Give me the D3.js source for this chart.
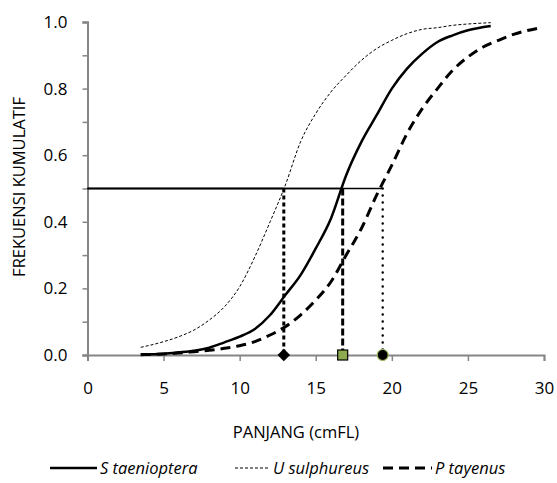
<!DOCTYPE html>
<html>
<head>
<meta charset="utf-8">
<script src="https://cdn.jsdelivr.net/npm/d3@7"></script>
<style>
  body { margin: 0; background: #fff; }
  text { font-family: "Open Sans", sans-serif; fill: #000; }
</style>
</head>
<body>
<svg width="557" height="483"></svg>
<script>
// Cumulative frequency curves
const sLen = [3.5, 5, 6, 7, 8, 9, 10, 11, 12, 13, 14, 15, 16, 17, 18, 19, 20, 21, 22, 23, 24, 25, 26.5];
const sVal = [0.002, 0.004, 0.008, 0.013, 0.022, 0.038, 0.055, 0.078, 0.12, 0.18, 0.24, 0.32, 0.41, 0.54, 0.64, 0.72, 0.80, 0.86, 0.905, 0.94, 0.96, 0.975, 0.988];

const uLen = [3.5, 5, 6, 7, 8, 9, 10, 11, 12, 13, 14, 15, 16, 17, 18, 19, 20, 21, 22, 23, 24, 25, 26.5];
const uVal = [0.023, 0.04, 0.055, 0.075, 0.105, 0.145, 0.205, 0.295, 0.4, 0.51, 0.64, 0.725, 0.79, 0.84, 0.885, 0.92, 0.945, 0.965, 0.978, 0.983, 0.99, 0.994, 0.998];

const pLen = [3.5, 5, 6, 7, 8, 9, 10, 11, 12, 13, 14, 15, 16, 17, 18, 19, 20, 21, 22, 23, 24, 25, 26, 27, 28, 29.6];
const pVal = [0.001, 0.003, 0.006, 0.01, 0.014, 0.02, 0.028, 0.04, 0.06, 0.085, 0.12, 0.165, 0.22, 0.3, 0.38, 0.48, 0.57, 0.665, 0.74, 0.8, 0.855, 0.895, 0.925, 0.945, 0.963, 0.981];

// median lengths (L50) for each species
const medNames = ["U sulphureus", "S taenioptera", "P tayenus"];
const medLen = [12.9, 16.77, 19.4];

const xTicks = [0, 5, 10, 15, 20, 25, 30];
const yTicks = [0, 0.2, 0.4, 0.6, 0.8, 1.0];
const yMinor = [0.1, 0.3, 0.5, 0.7, 0.9];

const svg = d3.select("svg");
const x = d3.scaleLinear().domain([0, 30]).range([87.5, 544]);
const y = d3.scaleLinear().domain([0, 1]).range([355, 22]);
const axisCol = "#868686";

// axes
const yAxis = svg.append("g").attr("transform", "translate(87.5,0)")
    .call(d3.axisLeft(y).tickValues(yTicks).tickFormat(d3.format(".1f")).tickSize(5).tickPadding(15));
yAxis.selectAll("text").style("font-size", "17px");
svg.append("g").attr("transform", "translate(87.5,0)")
    .call(d3.axisLeft(y).tickValues(yMinor).tickFormat("").tickSize(5));

const xAxis = svg.append("g").attr("transform", "translate(0,355)")
    .call(d3.axisBottom(x).tickValues(xTicks).tickSize(6).tickPadding(21));
xAxis.selectAll("text").style("font-size", "17px");

svg.selectAll(".domain").attr("stroke", axisCol).attr("stroke-width", 2);
svg.selectAll(".tick line").attr("stroke", axisCol).attr("stroke-width", 1.5);

svg.append("text")
    .attr("transform", "translate(25,187) rotate(-90)")
    .attr("text-anchor", "middle")
    .style("font-size", "16.5px")
    .text("FREKUENSI  KUMULATIF");

svg.append("text")
    .attr("x", 296).attr("y", 438)
    .attr("text-anchor", "middle")
    .style("font-size", "16.5px")
    .text("PANJANG (cmFL)");

// horizontal line at 0.5 up to each median
medLen.forEach(m => {
    svg.append("line")
        .attr("x1", x(0)).attr("x2", x(m))
        .attr("y1", y(0.5)).attr("y2", y(0.5))
        .attr("stroke", "#000").attr("stroke-width", 1.5);
});

// vertical drop lines
const dropStyle = [
    {dash: "4,3", w: 3, cap: "butt"},
    {dash: "7,3", w: 3, cap: "butt"},
    {dash: "0,7", w: 2.5, cap: "round"}
];
medLen.forEach((m, i) => {
    svg.append("line")
        .attr("x1", x(m)).attr("x2", x(m))
        .attr("y1", y(0.5)).attr("y2", y(0))
        .attr("stroke", "#000")
        .attr("stroke-width", dropStyle[i].w)
        .attr("stroke-dasharray", dropStyle[i].dash)
        .attr("stroke-linecap", dropStyle[i].cap);
});

// curves
const line = d3.line().x(d => x(d[0])).y(d => y(d[1])).curve(d3.curveMonotoneX);
const series = [
    {len: sLen, val: sVal, w: 2.5, dash: null},
    {len: uLen, val: uVal, w: 1, dash: "3,2"},
    {len: pLen, val: pVal, w: 3, dash: "10,6"}
];
series.forEach(s => {
    svg.append("path")
        .datum(d3.zip(s.len, s.val))
        .attr("d", line)
        .attr("fill", "none")
        .attr("stroke", "#000")
        .attr("stroke-width", s.w)
        .attr("stroke-dasharray", s.dash);
});

// markers on the axis
svg.append("path")
    .attr("d", d3.symbol(d3.symbolDiamond2, 100)())
    .attr("transform", `translate(${x(medLen[0])},${y(0)})`)
    .attr("fill", "#000");
svg.append("rect")
    .attr("x", x(medLen[1]) - 5).attr("y", y(0) - 5)
    .attr("width", 10).attr("height", 10)
    .attr("fill", "#8DAA4F").attr("stroke", "#000").attr("stroke-width", 1.2);
svg.append("circle")
    .attr("cx", x(medLen[2])).attr("cy", y(0)).attr("r", 5.5)
    .attr("fill", "#000").attr("stroke", "#9BBB59").attr("stroke-width", 1.2);

// legend
const legend = [
    {name: "S taenioptera", x1: 50, x2: 97, w: 2.5, dash: null},
    {name: "U sulphureus", x1: 235, x2: 270, w: 1, dash: "3,2"},
    {name: "P tayenus", x1: 383, x2: 432, w: 3, dash: "10,6"}
];
legend.forEach(l => {
    svg.append("line")
        .attr("x1", l.x1).attr("x2", l.x2)
        .attr("y1", 468).attr("y2", 468)
        .attr("stroke", "#000").attr("stroke-width", l.w)
        .attr("stroke-dasharray", l.dash);
    svg.append("text")
        .attr("x", l.x2 + 3).attr("y", 474)
        .style("font-size", "16.5px")
        .style("font-style", "italic")
        .text(l.name);
});
</script>
</body>
</html>
